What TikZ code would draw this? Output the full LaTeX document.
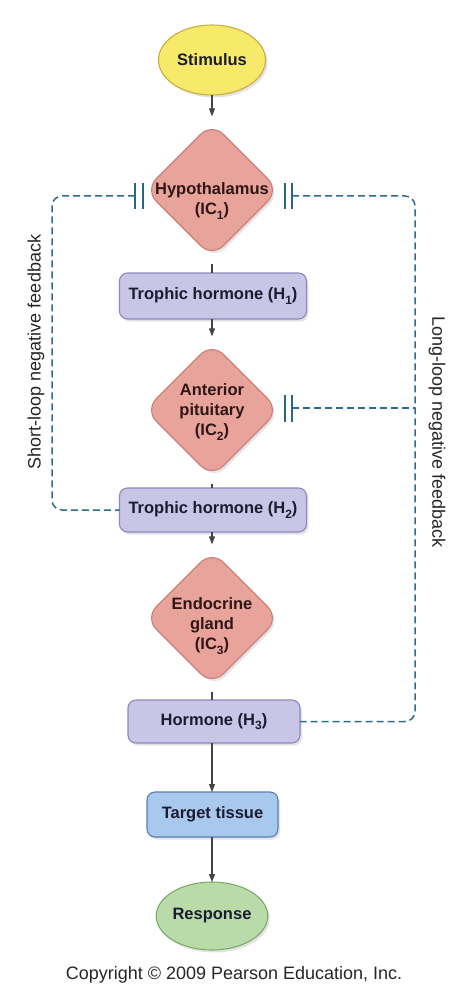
\documentclass[tikz,border=0pt]{standalone}
\usepackage{fontspec}
\setmainfont{Liberation Sans}
\usetikzlibrary{shapes.geometric,arrows.meta,shadows}
\definecolor{stimfill}{HTML}{F7EA6B}
\definecolor{stimdraw}{HTML}{C9AE3F}
\definecolor{diafill}{HTML}{E8A39B}
\definecolor{diadraw}{HTML}{C98078}
\definecolor{boxfill}{HTML}{C9C5E6}
\definecolor{boxdraw}{HTML}{8D88C0}
\definecolor{tgtfill}{HTML}{A8C8EE}
\definecolor{tgtdraw}{HTML}{5A7DB0}
\definecolor{respfill}{HTML}{B9DAA9}
\definecolor{respdraw}{HTML}{7FAA6E}
\definecolor{fbcol}{HTML}{2E6B91}
\definecolor{barcol}{HTML}{2A6585}
\definecolor{arrcol}{HTML}{454545}
\definecolor{txtdia}{HTML}{2E1616}
\definecolor{txtbox}{HTML}{1C1C30}
\newcommand\subx[1]{\raisebox{-0.5ex}{\fontsize{12}{12}\selectfont #1}}
\tikzset{
  lbl/.style={font=\fontsize{16.5}{20}\selectfont\bfseries, align=center, inner sep=0pt},
  shade/.style={drop shadow={opacity=0.22, shadow xshift=2pt, shadow yshift=-2.5pt}},
  ell/.style={ellipse, inner sep=0pt, outer sep=0pt, line width=1.1pt, shade, lbl},
  dia/.style={diamond, aspect=1, minimum width=134, minimum height=134, inner sep=0pt, outer sep=0pt,
              rounded corners=16pt, fill=diafill, draw=diadraw, line width=1.1pt, shade},
  hbox/.style={rectangle, rounded corners=8pt, inner sep=0pt, outer sep=0pt, fill=boxfill, draw=boxdraw,
               line width=1.1pt, shade, lbl, text=txtbox},
  arr/.style={draw=arrcol, line width=1.2pt, -{Triangle[length=8pt,width=6pt]}},
  ln/.style={draw=arrcol, line width=1.2pt},
  fb/.style={draw=fbcol, line width=1.5pt, dash pattern=on 7pt off 4pt, rounded corners=10pt},
  bar/.style={draw=barcol, line width=2pt},
  side/.style={font=\fontsize{18}{20}\selectfont, text=black!85, inner sep=0pt}
}
\begin{document}
\begin{tikzpicture}[x=1pt,y=-1pt]
\useasboundingbox (0,0) rectangle (468,1008);
\fill[white] (0,0) rectangle (468,1008);

% nodes
\node[ell, fill=stimfill, draw=stimdraw, minimum width=107, minimum height=70, text=txtbox] (stim) at (212,60) {Stimulus};
\node[dia] (hyp) at (212,190) {};
\node[lbl, text=txtdia] (hyptxt) at (212,201) {Hypothalamus\\(IC\subx{1})};
\node[hbox, minimum width=187, minimum height=46] (h1) at (213,296) {Trophic hormone (H\subx{1})};
\node[dia] (ap) at (212,410) {};
\node[lbl, text=txtdia] (aptxt) at (212,412) {Anterior\\pituitary\\(IC\subx{2})};
\node[hbox, minimum width=187, minimum height=44] (h2) at (213,510) {Trophic hormone (H\subx{2})};
\node[dia] (eg) at (212,618) {};
\node[lbl, text=txtdia] (egtxt) at (212,626) {Endocrine\\gland\\(IC\subx{3})};
\node[hbox, minimum width=172, minimum height=43] (h3) at (214,721.5) {Hormone (H\subx{3})};
\node[rectangle, rounded corners=8pt, inner sep=0pt, outer sep=0pt, fill=tgtfill, draw=tgtdraw, line width=1.1pt,
      shade, lbl, text=txtbox, minimum width=131, minimum height=45] (tgt) at (212.5,814.5) {Target tissue};
\node[ell, fill=respfill, draw=respdraw, minimum width=105, minimum height=68, text=txtbox] (resp) at (212,916) {Response};

% main chain (vertical, at x of the diamonds)
\draw[arr, shorten >=6.6pt] (stim.south) -- (hyp.north);
\draw[ln, shorten <=6.6pt] (hyp.south) -- (hyp.south |- h1.north);
\draw[arr, shorten >=6.6pt] (ap.north |- h1.south) -- (ap.north);
\draw[ln, shorten <=6.6pt] (ap.south) -- (ap.south |- h2.north);
\draw[arr, shorten >=6.6pt] (eg.north |- h2.south) -- (eg.north);
\draw[ln, shorten <=6.6pt] (eg.south) -- (eg.south |- h3.north);
\draw[arr] (eg.south |- h3.south) -- (eg.south |- tgt.north);
\draw[arr] (resp.north |- tgt.south) -- (resp.north);

% feedback loops
\coordinate (hL) at (135,196);
\coordinate (hR) at (292,196);
\coordinate (apR) at (292,408);
\coordinate (slx) at (52,0);
\coordinate (llx) at (415,0);
\draw[fb] (hL) -- (hL -| slx) -- (h2.west -| slx) -- (h2.west);
\draw[fb] (hR) -- (hR -| llx) -- (h3.east -| llx) -- (h3.east);
\draw[fb, rounded corners=0pt] (apR) -- (apR -| llx);

% inhibition bars
\draw[bar] (135,183) -- (135,209);
\draw[bar] (142.5,183) -- (142.5,209);
\draw[bar] (284.5,183) -- (284.5,209);
\draw[bar] (292,183) -- (292,209);
\draw[bar] (284.5,395) -- (284.5,422);
\draw[bar] (292,395) -- (292,422);

% side labels
\node[side, rotate=90] (sl) at (36,352) {Short-loop negative feedback};
\node[side, rotate=-90] (ll) at (437,432) {Long-loop negative feedback};

% copyright
\node[font=\fontsize{18}{20}\selectfont, text=black!85, inner sep=0pt] (copy) at (234,975) {Copyright © 2009 Pearson Education, Inc.};
\end{tikzpicture}
\end{document}
